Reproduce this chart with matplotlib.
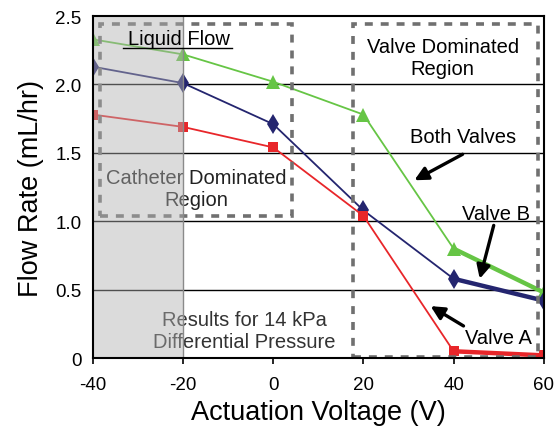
import matplotlib
matplotlib.use("Agg")
import matplotlib.pyplot as plt
import numpy as np

plt.rcParams["font.family"] = ["Liberation Sans", "DejaVu Sans"]

VOLTAGE = [-40, -20, 0, 20, 40, 60]
BOTH    = [2.33, 2.22, 2.02, 1.78, 0.80, 0.48]   # green triangles
VALVE_B = [2.13, 2.01, 1.71, 1.08, 0.58, 0.42]   # navy diamonds
VALVE_A = [1.78, 1.69, 1.54, 1.04, 0.05, 0.02]   # red squares

SERIES = [
    (BOTH,    "#66c545", "^", 10),
    (VALVE_B, "#24256f", "d", 10),
    (VALVE_A, "#e8262a", "s", 7.5),
]

fig = plt.figure(figsize=(5.56, 4.27), dpi=100)
ax = fig.add_axes([0.167, 0.159, 0.811, 0.801])

for y in [0.5, 1.0, 1.5, 2.0]:
    ax.axhline(y, color="black", linewidth=1.0, zorder=1)

for vals, c, m, ms in SERIES:
    ax.plot(VOLTAGE, vals, color=c, linewidth=1.3, marker=m, markersize=ms,
            markeredgewidth=0, zorder=3)
    ax.plot(VOLTAGE[-2:], vals[-2:], color=c, linewidth=3.2, zorder=3)

# dashed region boxes
box_kw = dict(fill=False, edgecolor="#707070", linewidth=2.6,
              linestyle=(0, (2.2, 2.2)), zorder=4)
ax.add_patch(plt.Rectangle((-38.4, 1.04), 42.6, 1.40, **box_kw))
ax.add_patch(plt.Rectangle((17.8, 0.01), 40.9, 2.43, **box_kw))

FS = 14.5
LS = 1.2
ax.text(-21, 2.335, "Liquid Flow", ha="center", va="center", fontsize=FS, zorder=8)
ax.plot([-33.3, -9.1], [2.27, 2.27], color="black", linewidth=1.0, zorder=8)
ax.text(-17, 1.24, "Catheter Dominated\nRegion", ha="center", va="center",
        fontsize=FS, linespacing=LS, color="#222222", zorder=2)
ax.text(37.6, 2.2, "Valve Dominated\nRegion", ha="center", va="center",
        fontsize=FS, linespacing=LS, zorder=5)
ax.text(-6.4, 0.2, "Results for 14 kPa\nDifferential Pressure", ha="center",
        va="center", fontsize=FS, linespacing=LS, color="#333333", zorder=2)
ax.text(42, 1.62, "Both Valves", ha="center", va="center", fontsize=FS, zorder=5)
ax.text(49.5, 1.06, "Valve B", ha="center", va="center", fontsize=FS, zorder=5)
ax.text(50, 0.15, "Valve A", ha="center", va="center", fontsize=FS, zorder=5)

arrow_kw = dict(arrowstyle="-|>,head_length=0.8,head_width=0.4", color="black",
                linewidth=2.4, shrinkA=0, shrinkB=0)
ax.annotate("", xy=(31.3, 1.30), xytext=(42, 1.49), arrowprops=arrow_kw, zorder=5)
ax.annotate("", xy=(45.8, 0.58), xytext=(48.9, 0.97), arrowprops=arrow_kw, zorder=5)
ax.annotate("", xy=(34.9, 0.38), xytext=(42.2, 0.235), arrowprops=arrow_kw, zorder=5)

# shaded catheter region, drawn over the marks
ax.axvspan(-40, -20, color="#b0b0b0", alpha=0.45, linewidth=0, zorder=6)
ax.axvline(-20, color="#8a8a8a", linewidth=1.0, zorder=6)

ax.set_xlim(-40, 60)
ax.set_ylim(0, 2.5)
ax.set_xticks(VOLTAGE)
ax.set_xticklabels([str(v) for v in VOLTAGE])
ax.set_yticks([0, 0.5, 1.0, 1.5, 2.0, 2.5])
ax.set_yticklabels(["0", "0.5", "1.0", "1.5", "2.0", "2.5"])
ax.tick_params(axis="x", direction="out", length=4, width=1.2, labelsize=13.5, pad=9)
ax.tick_params(axis="y", length=0, labelsize=13.5, pad=8)
for s in ax.spines.values():
    s.set_linewidth(1.5)
    s.set_zorder(7)
ax.set_xlabel("Actuation Voltage (V)", fontsize=19.5, labelpad=4)
ax.set_ylabel("Flow Rate (mL/hr)", fontsize=19.5, labelpad=8)

fig.savefig("out.png", dpi=100)
